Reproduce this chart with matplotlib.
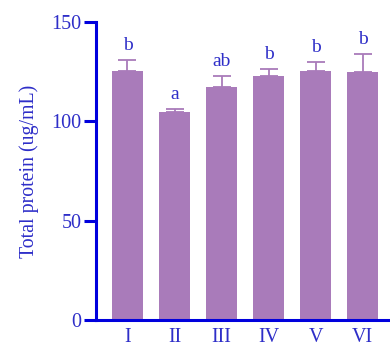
import matplotlib
matplotlib.use("Agg")
import matplotlib.pyplot as plt

groups = ["I", "II", "III", "IV", "V", "VI"]
means = [125.3, 104.7, 117.1, 122.6, 125.5, 124.8]
sd = [5.5, 1.5, 5.7, 3.7, 4.3, 8.9]
letters = ["b", "a", "ab", "b", "b", "b"]
yticks = [0, 50, 100, 150]

bar_color = "#A97BBA"
axis_blue = "#0000DD"
text_blue = "#2E2EC8"

plt.rcParams["font.family"] = ["Liberation Serif", "DejaVu Serif"]

fig = plt.figure(figsize=(3.9, 3.48), dpi=100)
ax = fig.add_axes([0.246, 0.0805, 0.754, 0.8563])

x = list(range(len(groups)))
ax.bar(x, means, width=0.66, color=bar_color, zorder=2)
ax.errorbar(x, means, yerr=[[0] * len(sd), sd], fmt="none", ecolor=bar_color,
            elinewidth=1.3, capsize=6.5, capthick=1.3, zorder=3)

for xi, m, s, lab in zip(x, means, sd, letters):
    ax.text(xi, m + s + 3.0, lab, ha="center", va="bottom",
            fontsize=14, color=text_blue)

ax.set_xlim(-0.67, 5.58)
ax.set_ylim(0, 150)
ax.set_yticks(yticks)
ax.set_xticks(x)
ax.set_xticklabels(groups)

for side in ("top", "right"):
    ax.spines[side].set_visible(False)
for side in ("left", "bottom"):
    ax.spines[side].set_color(axis_blue)
    ax.spines[side].set_linewidth(2.2)

ax.tick_params(axis="y", length=8.5, width=2.2, color=axis_blue,
               labelsize=14.5, labelcolor=text_blue, pad=2)
ax.tick_params(axis="x", length=0, labelsize=14.5, labelcolor=text_blue, pad=6)

ax.set_ylabel("Total protein (ug/mL)", fontsize=14.3, color=text_blue, labelpad=9)

fig.savefig("out.png", dpi=100)
